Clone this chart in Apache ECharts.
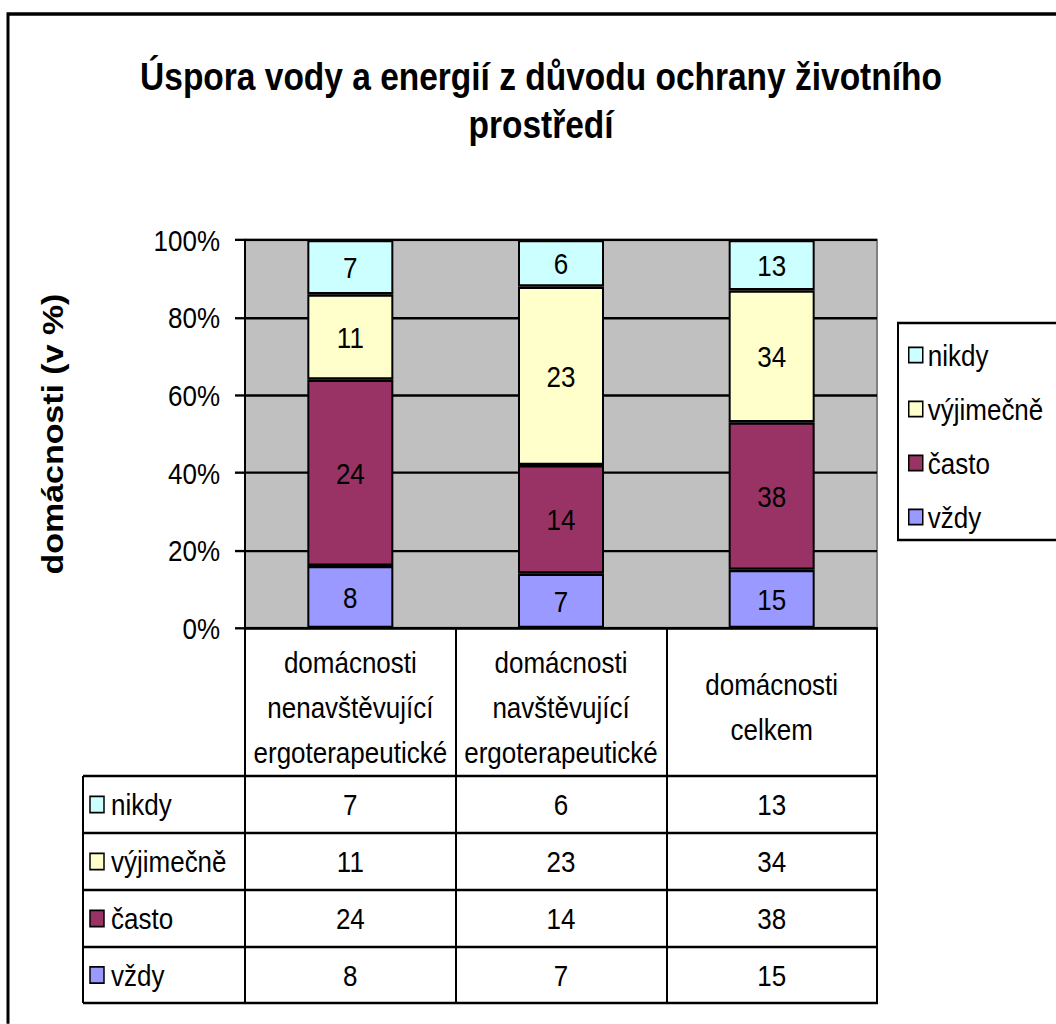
<!DOCTYPE html>
<html>
<head>
<meta charset="utf-8">
<script src="https://cdn.jsdelivr.net/npm/echarts@6/dist/echarts.min.js"></script>
<style>
html,body{margin:0;padding:0;background:#fff;width:1056px;height:1024px;overflow:hidden;}
#chart{width:1056px;transform-origin:0 0;}
</style>
</head>
<body>
<div id="chart"></div>
<script>
// ---- data ----
const categories = [
  'domácnosti\nnenavštěvující\nergoterapeutické',
  'domácnosti\nnavštěvující\nergoterapeutické',
  'domácnosti\ncelkem'
];
const seriesNames = ['vždy', 'často', 'výjimečně', 'nikdy'];
const vzdy = [8, 7, 15];
const casto = [24, 14, 38];
const vyjimecne = [11, 23, 34];
const nikdy = [7, 6, 13];
const seriesColors = ['#9999FF', '#993366', '#FFFFCC', '#CCFFFF'];
const yTickLabels = ['0%', '20%', '40%', '60%', '80%', '100%'];
const titleText = 'Úspora vody a energií z důvodu ochrany životního\nprostředí';
const yAxisTitle = 'domácnosti (v %)';

// ---- layout (the reference is vertically stretched; emulate with scaleY) ----
const S = 1.17;
const Y = v => v / S;
const FONT = '"Liberation Sans", Arial, sans-serif';
const FS = 26;
const el = document.getElementById('chart');
el.style.height = (1024 / S) + 'px';
el.style.transform = 'scaleY(' + S + ')';

const G = {left: 245, top: Y(240), right: 877, bottom: Y(628)};
const rowLines = [776, 833, 890, 947, 1003].map(Y);
const tableLeft = 83;

const counts = [vzdy, casto, vyjimecne, nikdy];
const totals = categories.map((c, i) => counts.reduce((s, arr) => s + arr[i], 0));
const tableOrder = [3, 2, 1, 0]; // nikdy, výjimečně, často, vždy

const series = counts.map((arr, si) => ({
  name: seriesNames[si],
  type: 'bar',
  stack: 'total',
  barWidth: 86,
  xAxisIndex: 0,
  itemStyle: {color: seriesColors[si], borderColor: '#000', borderWidth: 2},
  label: {
    show: true, position: 'inside', fontFamily: FONT, fontSize: FS, color: '#000',
    formatter: p => String(arr[p.dataIndex])
  },
  data: arr.map((v, i) => v / totals[i] * 100)
}));

// extra x axes to print table values per row
const rowAxes = tableOrder.map((si, r) => {
  const center = (rowLines[r] + rowLines[r + 1]) / 2;
  return {
    type: 'category', gridIndex: 0, position: 'bottom',
    offset: center - G.bottom,
    data: counts[si].map(String),
    axisLine: {show: false}, axisTick: {show: false}, splitLine: {show: false},
    axisLabel: {interval: 0, margin: 0, verticalAlign: 'middle', fontFamily: FONT, fontSize: FS, color: '#000'}
  };
});

// graphic: outer frame, table lines, row labels
const graphic = [
  {type: 'rect', shape: {x: 8, y: Y(14), width: 1200, height: 1200}, style: {fill: null, stroke: '#000', lineWidth: 3}, silent: true, z: 100}
];
rowLines.forEach(y => graphic.push({type: 'line', shape: {x1: tableLeft, y1: y, x2: G.right + 1, y2: y}, style: {stroke: '#000', lineWidth: 2}, z: 100}));
graphic.push({type: 'line', shape: {x1: tableLeft, y1: rowLines[0], x2: tableLeft, y2: rowLines[rowLines.length - 1]}, style: {stroke: '#000', lineWidth: 2}, z: 100});
tableOrder.forEach((si, r) => {
  const center = (rowLines[r] + rowLines[r + 1]) / 2;
  graphic.push({type: 'rect', shape: {x: 90, y: center - 7, width: 14, height: 14}, style: {fill: seriesColors[si], stroke: '#000', lineWidth: 1.5}, z: 100});
  graphic.push({type: 'text', x: 111, y: center, style: {text: seriesNames[si], font: FS + 'px ' + FONT, fill: '#000', textVerticalAlign: 'middle', verticalAlign: 'middle', textAlign: 'left'}, z: 100});
});

const chart = echarts.init(el, null, {renderer: 'svg'});
chart.setOption({
  animation: false,
  backgroundColor: '#fff',
  title: {
    text: titleText, left: 536, top: Y(47), textAlign: 'center',
    textStyle: {fontFamily: FONT, fontSize: 33.5, fontWeight: 'bold', color: '#000', lineHeight: Y(48)}
  },
  legend: {
    orient: 'vertical', left: 898, top: Y(323),
    data: ['nikdy', 'výjimečně', 'často', 'vždy'],
    icon: 'rect',
    borderColor: '#000', borderWidth: 2, padding: [Y(355) - 13 - Y(323), 14, Y(540) - Y(517) - 13, 10],
    itemWidth: 14, itemHeight: 13, itemGap: Y(54) - 26,
    itemStyle: {borderColor: '#000', borderWidth: 1.5},
    textStyle: {fontFamily: FONT, fontSize: FS, color: '#000'}
  },
  grid: {
    left: G.left, top: G.top, width: G.right - G.left, height: G.bottom - G.top,
    show: true, backgroundColor: '#C0C0C0', borderColor: '#808080', borderWidth: 2
  },
  xAxis: [{
    type: 'category', data: categories, position: 'bottom',
    axisLine: {lineStyle: {color: '#000', width: 2}},
    axisTick: {show: true, alignWithLabel: false, inside: false, length: rowLines[rowLines.length - 1] - G.bottom, lineStyle: {color: '#000', width: 2}},
    axisLabel: {interval: 0, margin: Y(79), verticalAlign: 'middle', fontFamily: FONT, fontSize: FS, lineHeight: Y(45), color: '#000'},
    splitLine: {show: false}
  }].concat(rowAxes),
  yAxis: {
    type: 'value', min: 0, max: 100, interval: 20,
    name: yAxisTitle, nameLocation: 'middle', nameRotate: 90, nameGap: 178,
    nameTextStyle: {fontFamily: FONT, fontSize: 29, fontWeight: 'bold', color: '#000'},
    axisLine: {show: true, lineStyle: {color: '#000', width: 2}},
    axisTick: {show: true, length: 10, lineStyle: {color: '#000', width: 2}},
    axisLabel: {margin: 25, fontFamily: FONT, fontSize: FS, color: '#000', formatter: v => yTickLabels[v / 20]},
    splitLine: {show: true, lineStyle: {color: '#000', width: 2}}
  },
  series: series,
  graphic: graphic
});
</script>
</body>
</html>
